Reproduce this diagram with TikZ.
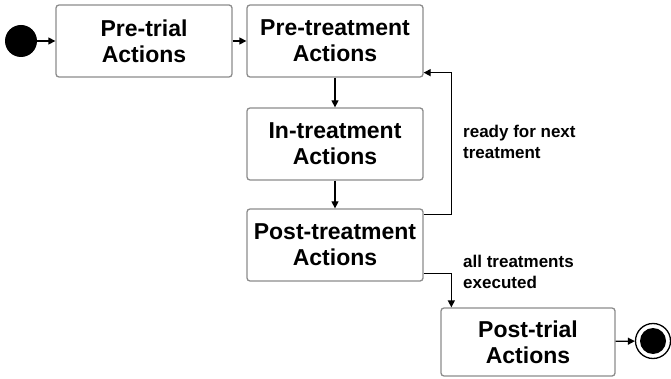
\documentclass[tikz,border=0pt]{standalone}
\usepackage{fontspec}
\setmainfont{Liberation Sans}
\usetikzlibrary{arrows.meta}
\begin{document}
\begin{tikzpicture}[x=1pt,y=-1pt,
  statebox/.style={draw=black!45,line width=1.3pt,rounded corners=3pt,fill=white,
    minimum width=176pt,minimum height=72pt,align=center,inner sep=0pt,
    font=\fontsize{23}{26}\selectfont\bfseries},
  lbl/.style={align=left,anchor=west,inner sep=0pt,font=\fontsize{17}{21}\selectfont\bfseries},
  arr/.style={line width=1.3pt,-{Triangle[length=7pt,width=7pt]}}]
\useasboundingbox (0,0) rectangle (671,379);
\node[circle,fill=black,minimum size=32pt,inner sep=0pt] (start) at (21,41) {};
\node[statebox] (pretrial) at (144,41) {Pre-trial\\Actions};
\node[statebox] (pretreat) at (335,41) {Pre-treatment\\Actions};
\node[statebox] (intreat) at (335,144) {In-treatment\\Actions};
\node[statebox] (posttreat) at (335,245) {Post-treatment\\Actions};
\node[statebox,minimum width=174pt,minimum height=68pt] (posttrial) at (528,342) {Post-trial\\Actions};
\node[circle,draw=black,line width=1.3pt,minimum size=35pt,inner sep=0pt] (endo) at (653,341) {};
\node[circle,fill=black,minimum size=26pt,inner sep=0pt] (endi) at (653,341) {};
\node[lbl] (l1) at (463,142) {ready for next\\treatment};
\node[lbl] (l2) at (463,272) {all treatments\\executed};
\draw[arr] (start) -- (pretrial);
\draw[arr] (pretrial) -- (pretreat);
\draw[arr] (pretreat) -- (intreat);
\draw[arr] (intreat) -- (posttreat);
\draw[arr] ([yshift=-6pt]posttreat.north east) -- ++(28,0) |- ([yshift=5pt]pretreat.south east);
\draw[arr] ([yshift=8pt]posttreat.south east) -| ([xshift=11pt]posttrial.north west);
\draw[arr] (posttrial) -- (endo);
\end{tikzpicture}
\end{document}
